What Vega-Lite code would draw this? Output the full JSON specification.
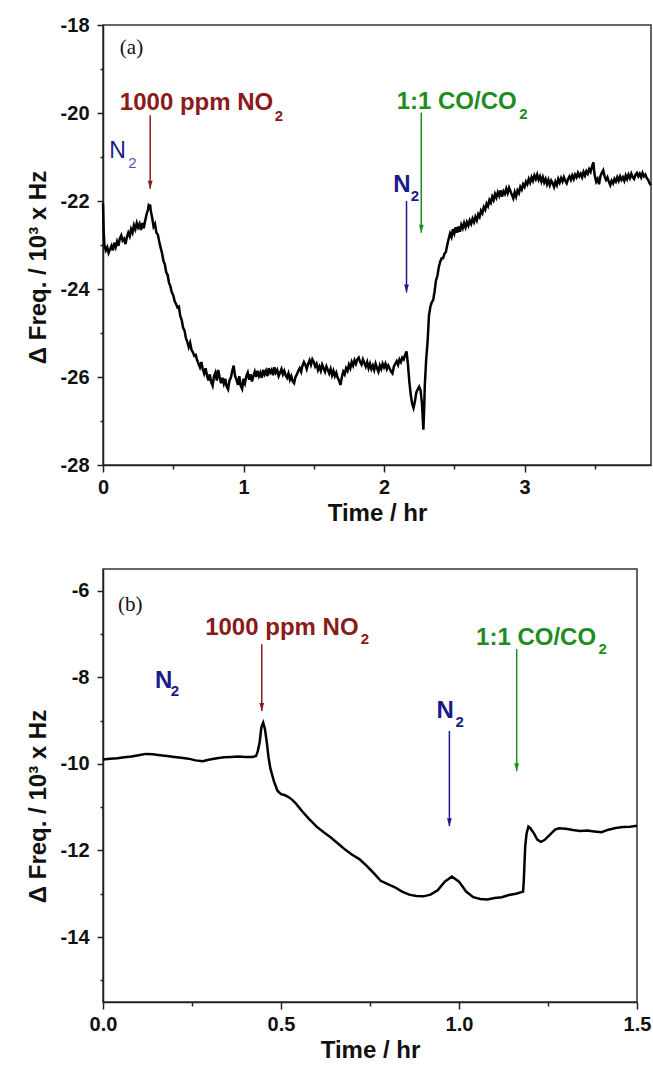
{
  "$schema": "https://vega.github.io/schema/vega-lite/v6.json",
  "padding": {"left": 25, "top": 14, "right": 0, "bottom": 0},
  "background": "white",
  "spacing": 104,
  "bounds": "flush",
  "config": {
    "view": {"stroke": "#333", "strokeWidth": 1.5},
    "axis": {
      "domainColor": "#222", "domainWidth": 1.5, "tickColor": "#222", "tickWidth": 1.5,
      "labelFont": "Liberation Sans", "labelFontWeight": "bold", "labelFontSize": 20, "labelColor": "#111",
      "titleFont": "Liberation Sans", "titleFontWeight": "bold", "titleFontSize": 24, "titleColor": "#111",
      "grid": false, "labelFlush": false, "labelOverlap": false
    }
  },
  "datasets": {
    "curveA": [
      {"t":0.000,"f":-22.05},{"t":0.005,"f":-22.7},{"t":0.01,"f":-23.0},{"t":0.02,"f":-23.12},{"t":0.03,"f":-23.05},{"t":0.04,"f":-23.18},{"t":0.05,"f":-23.1},{"t":0.06,"f":-23.02},{"t":0.07,"f":-23.12},{"t":0.08,"f":-22.95},{"t":0.09,"f":-23.05},{"t":0.10,"f":-22.92},{"t":0.11,"f":-23.02},{"t":0.12,"f":-22.85},{"t":0.13,"f":-22.78},{"t":0.14,"f":-22.9},{"t":0.15,"f":-22.86},{"t":0.16,"f":-22.98},{"t":0.17,"f":-22.82},{"t":0.18,"f":-22.72},{"t":0.19,"f":-22.8},{"t":0.20,"f":-22.64},{"t":0.21,"f":-22.72},{"t":0.22,"f":-22.55},{"t":0.23,"f":-22.64},{"t":0.24,"f":-22.5},{"t":0.25,"f":-22.6},{"t":0.26,"f":-22.52},{"t":0.27,"f":-22.66},{"t":0.28,"f":-22.5},{"t":0.29,"f":-22.62},{"t":0.30,"f":-22.45},{"t":0.31,"f":-22.3},{"t":0.32,"f":-22.2},{"t":0.325,"f":-22.1},{"t":0.33,"f":-22.12},{"t":0.335,"f":-22.08},{"t":0.34,"f":-22.22},{"t":0.35,"f":-22.38},{"t":0.36,"f":-22.58},{"t":0.37,"f":-22.52},{"t":0.38,"f":-22.72},{"t":0.39,"f":-22.76},{"t":0.40,"f":-22.92},{"t":0.41,"f":-23.06},{"t":0.42,"f":-23.18},{"t":0.43,"f":-23.36},{"t":0.44,"f":-23.44},{"t":0.45,"f":-23.62},{"t":0.46,"f":-23.68},{"t":0.47,"f":-23.86},{"t":0.48,"f":-23.94},{"t":0.49,"f":-24.08},{"t":0.50,"f":-24.14},{"t":0.51,"f":-24.28},{"t":0.52,"f":-24.34},{"t":0.53,"f":-24.42},{"t":0.54,"f":-24.4},{"t":0.55,"f":-24.62},{"t":0.56,"f":-24.7},{"t":0.57,"f":-24.88},{"t":0.58,"f":-24.94},{"t":0.59,"f":-25.12},{"t":0.60,"f":-25.2},{"t":0.61,"f":-25.32},{"t":0.62,"f":-25.22},{"t":0.63,"f":-25.38},{"t":0.64,"f":-25.44},{"t":0.65,"f":-25.52},{"t":0.66,"f":-25.5},{"t":0.67,"f":-25.62},{"t":0.68,"f":-25.7},{"t":0.69,"f":-25.78},{"t":0.70,"f":-25.66},{"t":0.71,"f":-25.82},{"t":0.72,"f":-25.92},{"t":0.73,"f":-25.8},{"t":0.74,"f":-25.96},{"t":0.75,"f":-26.08},{"t":0.76,"f":-25.94},{"t":0.77,"f":-26.12},{"t":0.78,"f":-26.2},{"t":0.79,"f":-25.98},{"t":0.80,"f":-25.9},{"t":0.81,"f":-26.08},{"t":0.82,"f":-25.84},{"t":0.83,"f":-26.0},{"t":0.84,"f":-26.14},{"t":0.85,"f":-26.02},{"t":0.86,"f":-26.15},{"t":0.87,"f":-26.04},{"t":0.88,"f":-26.22},{"t":0.89,"f":-26.28},{"t":0.90,"f":-26.08},{"t":0.91,"f":-26.02},{"t":0.92,"f":-25.86},{"t":0.93,"f":-25.74},{"t":0.94,"f":-25.98},{"t":0.95,"f":-26.06},{"t":0.96,"f":-26.18},{"t":0.97,"f":-25.98},{"t":0.98,"f":-26.2},{"t":0.99,"f":-26.27},{"t":1.00,"f":-26.04},{"t":1.01,"f":-26.14},{"t":1.02,"f":-25.98},{"t":1.03,"f":-25.9},{"t":1.04,"f":-26.06},{"t":1.05,"f":-25.94},{"t":1.06,"f":-26.1},{"t":1.07,"f":-25.98},{"t":1.08,"f":-25.88},{"t":1.09,"f":-26.0},{"t":1.10,"f":-25.86},{"t":1.11,"f":-25.98},{"t":1.12,"f":-25.9},{"t":1.13,"f":-26.02},{"t":1.14,"f":-25.84},{"t":1.15,"f":-25.94},{"t":1.16,"f":-25.86},{"t":1.17,"f":-25.98},{"t":1.18,"f":-25.8},{"t":1.19,"f":-25.9},{"t":1.20,"f":-25.84},{"t":1.21,"f":-25.96},{"t":1.22,"f":-25.78},{"t":1.23,"f":-25.9},{"t":1.24,"f":-25.84},{"t":1.25,"f":-25.98},{"t":1.26,"f":-25.9},{"t":1.27,"f":-25.82},{"t":1.28,"f":-25.94},{"t":1.29,"f":-25.86},{"t":1.30,"f":-25.96},{"t":1.31,"f":-26.02},{"t":1.32,"f":-25.92},{"t":1.33,"f":-26.06},{"t":1.34,"f":-25.98},{"t":1.35,"f":-26.1},{"t":1.36,"f":-26.14},{"t":1.37,"f":-26.0},{"t":1.38,"f":-25.94},{"t":1.39,"f":-25.86},{"t":1.40,"f":-25.8},{"t":1.41,"f":-25.88},{"t":1.42,"f":-25.74},{"t":1.43,"f":-25.66},{"t":1.44,"f":-25.72},{"t":1.45,"f":-25.82},{"t":1.46,"f":-25.7},{"t":1.47,"f":-25.62},{"t":1.48,"f":-25.72},{"t":1.49,"f":-25.6},{"t":1.50,"f":-25.66},{"t":1.51,"f":-25.76},{"t":1.52,"f":-25.7},{"t":1.53,"f":-25.84},{"t":1.54,"f":-25.76},{"t":1.55,"f":-25.86},{"t":1.56,"f":-25.72},{"t":1.57,"f":-25.8},{"t":1.58,"f":-25.88},{"t":1.59,"f":-25.76},{"t":1.60,"f":-25.84},{"t":1.61,"f":-25.92},{"t":1.62,"f":-25.82},{"t":1.63,"f":-25.96},{"t":1.64,"f":-25.86},{"t":1.65,"f":-25.98},{"t":1.66,"f":-25.9},{"t":1.67,"f":-26.02},{"t":1.68,"f":-26.08},{"t":1.69,"f":-26.18},{"t":1.70,"f":-26.0},{"t":1.71,"f":-25.88},{"t":1.72,"f":-25.94},{"t":1.73,"f":-25.8},{"t":1.74,"f":-25.86},{"t":1.75,"f":-25.72},{"t":1.76,"f":-25.8},{"t":1.77,"f":-25.66},{"t":1.78,"f":-25.74},{"t":1.79,"f":-25.62},{"t":1.80,"f":-25.7},{"t":1.81,"f":-25.6},{"t":1.82,"f":-25.56},{"t":1.83,"f":-25.66},{"t":1.84,"f":-25.72},{"t":1.85,"f":-25.6},{"t":1.86,"f":-25.68},{"t":1.87,"f":-25.76},{"t":1.88,"f":-25.66},{"t":1.89,"f":-25.8},{"t":1.90,"f":-25.7},{"t":1.91,"f":-25.82},{"t":1.92,"f":-25.74},{"t":1.93,"f":-25.84},{"t":1.94,"f":-25.7},{"t":1.95,"f":-25.8},{"t":1.96,"f":-25.88},{"t":1.97,"f":-25.74},{"t":1.98,"f":-25.82},{"t":1.99,"f":-25.7},{"t":2.00,"f":-25.78},{"t":2.01,"f":-25.7},{"t":2.02,"f":-25.82},{"t":2.03,"f":-25.74},{"t":2.04,"f":-25.8},{"t":2.05,"f":-25.88},{"t":2.06,"f":-25.92},{"t":2.07,"f":-25.76},{"t":2.08,"f":-25.7},{"t":2.09,"f":-25.64},{"t":2.10,"f":-25.72},{"t":2.11,"f":-25.6},{"t":2.12,"f":-25.66},{"t":2.13,"f":-25.56},{"t":2.14,"f":-25.6},{"t":2.15,"f":-25.5},{"t":2.16,"f":-25.42},{"t":2.17,"f":-25.7},{"t":2.18,"f":-26.1},{"t":2.19,"f":-26.4},{"t":2.20,"f":-26.6},{"t":2.21,"f":-26.7},{"t":2.22,"f":-26.55},{"t":2.23,"f":-26.35},{"t":2.24,"f":-26.28},{"t":2.25,"f":-26.22},{"t":2.26,"f":-26.3},{"t":2.27,"f":-26.6},{"t":2.28,"f":-27.2},{"t":2.285,"f":-26.8},{"t":2.29,"f":-26.2},{"t":2.30,"f":-25.6},{"t":2.31,"f":-25.2},{"t":2.32,"f":-24.6},{"t":2.33,"f":-24.4},{"t":2.34,"f":-24.3},{"t":2.35,"f":-24.25},{"t":2.36,"f":-24.05},{"t":2.37,"f":-23.8},{"t":2.38,"f":-23.7},{"t":2.39,"f":-23.5},{"t":2.40,"f":-23.38},{"t":2.41,"f":-23.3},{"t":2.42,"f":-23.3},{"t":2.43,"f":-23.2},{"t":2.44,"f":-23.16},{"t":2.45,"f":-23.0},{"t":2.46,"f":-22.86},{"t":2.47,"f":-22.74},{"t":2.48,"f":-22.82},{"t":2.49,"f":-22.64},{"t":2.50,"f":-22.74},{"t":2.51,"f":-22.6},{"t":2.52,"f":-22.72},{"t":2.53,"f":-22.58},{"t":2.54,"f":-22.7},{"t":2.55,"f":-22.54},{"t":2.56,"f":-22.62},{"t":2.57,"f":-22.5},{"t":2.58,"f":-22.6},{"t":2.59,"f":-22.48},{"t":2.60,"f":-22.56},{"t":2.61,"f":-22.44},{"t":2.62,"f":-22.52},{"t":2.63,"f":-22.4},{"t":2.64,"f":-22.48},{"t":2.65,"f":-22.36},{"t":2.66,"f":-22.44},{"t":2.67,"f":-22.3},{"t":2.68,"f":-22.36},{"t":2.69,"f":-22.22},{"t":2.70,"f":-22.28},{"t":2.71,"f":-22.14},{"t":2.72,"f":-22.2},{"t":2.73,"f":-22.06},{"t":2.74,"f":-22.12},{"t":2.75,"f":-21.98},{"t":2.76,"f":-22.04},{"t":2.77,"f":-21.9},{"t":2.78,"f":-21.98},{"t":2.79,"f":-21.84},{"t":2.80,"f":-21.92},{"t":2.81,"f":-21.8},{"t":2.82,"f":-21.88},{"t":2.83,"f":-21.76},{"t":2.84,"f":-21.9},{"t":2.85,"f":-21.78},{"t":2.86,"f":-21.84},{"t":2.87,"f":-21.72},{"t":2.88,"f":-21.82},{"t":2.89,"f":-21.7},{"t":2.90,"f":-21.78},{"t":2.91,"f":-21.86},{"t":2.92,"f":-21.94},{"t":2.93,"f":-21.8},{"t":2.94,"f":-21.9},{"t":2.95,"f":-21.76},{"t":2.96,"f":-21.82},{"t":2.97,"f":-21.68},{"t":2.98,"f":-21.74},{"t":2.99,"f":-21.62},{"t":3.00,"f":-21.68},{"t":3.01,"f":-21.56},{"t":3.02,"f":-21.62},{"t":3.03,"f":-21.5},{"t":3.04,"f":-21.58},{"t":3.05,"f":-21.46},{"t":3.06,"f":-21.54},{"t":3.07,"f":-21.42},{"t":3.08,"f":-21.5},{"t":3.09,"f":-21.4},{"t":3.10,"f":-21.52},{"t":3.11,"f":-21.44},{"t":3.12,"f":-21.56},{"t":3.13,"f":-21.46},{"t":3.14,"f":-21.58},{"t":3.15,"f":-21.5},{"t":3.16,"f":-21.62},{"t":3.17,"f":-21.52},{"t":3.18,"f":-21.64},{"t":3.19,"f":-21.54},{"t":3.20,"f":-21.6},{"t":3.21,"f":-21.68},{"t":3.22,"f":-21.56},{"t":3.23,"f":-21.64},{"t":3.24,"f":-21.5},{"t":3.25,"f":-21.58},{"t":3.26,"f":-21.48},{"t":3.27,"f":-21.56},{"t":3.28,"f":-21.46},{"t":3.29,"f":-21.54},{"t":3.30,"f":-21.6},{"t":3.31,"f":-21.5},{"t":3.32,"f":-21.44},{"t":3.33,"f":-21.52},{"t":3.34,"f":-21.42},{"t":3.35,"f":-21.5},{"t":3.36,"f":-21.4},{"t":3.37,"f":-21.46},{"t":3.38,"f":-21.36},{"t":3.39,"f":-21.44},{"t":3.40,"f":-21.38},{"t":3.41,"f":-21.46},{"t":3.42,"f":-21.34},{"t":3.43,"f":-21.42},{"t":3.44,"f":-21.32},{"t":3.45,"f":-21.38},{"t":3.46,"f":-21.28},{"t":3.47,"f":-21.34},{"t":3.48,"f":-21.22},{"t":3.49,"f":-21.12},{"t":3.495,"f":-21.3},{"t":3.50,"f":-21.42},{"t":3.51,"f":-21.56},{"t":3.52,"f":-21.5},{"t":3.53,"f":-21.62},{"t":3.54,"f":-21.44},{"t":3.55,"f":-21.36},{"t":3.56,"f":-21.3},{"t":3.57,"f":-21.44},{"t":3.58,"f":-21.52},{"t":3.59,"f":-21.46},{"t":3.60,"f":-21.56},{"t":3.61,"f":-21.64},{"t":3.62,"f":-21.54},{"t":3.63,"f":-21.6},{"t":3.64,"f":-21.5},{"t":3.65,"f":-21.56},{"t":3.66,"f":-21.46},{"t":3.67,"f":-21.54},{"t":3.68,"f":-21.44},{"t":3.69,"f":-21.52},{"t":3.70,"f":-21.46},{"t":3.71,"f":-21.54},{"t":3.72,"f":-21.42},{"t":3.73,"f":-21.5},{"t":3.74,"f":-21.4},{"t":3.75,"f":-21.48},{"t":3.76,"f":-21.38},{"t":3.77,"f":-21.46},{"t":3.78,"f":-21.5},{"t":3.79,"f":-21.4},{"t":3.80,"f":-21.36},{"t":3.81,"f":-21.44},{"t":3.82,"f":-21.38},{"t":3.83,"f":-21.46},{"t":3.84,"f":-21.36},{"t":3.85,"f":-21.44},{"t":3.86,"f":-21.4},{"t":3.87,"f":-21.48},{"t":3.88,"f":-21.52},{"t":3.89,"f":-21.6},{"t":3.90,"f":-21.64}
    ],
    "curveB": [
      {"t":0.00,"f":-9.9},{"t":0.02,"f":-9.88},{"t":0.04,"f":-9.87},{"t":0.06,"f":-9.85},{"t":0.08,"f":-9.83},{"t":0.10,"f":-9.8},{"t":0.12,"f":-9.77},{"t":0.14,"f":-9.78},{"t":0.16,"f":-9.8},{"t":0.18,"f":-9.82},{"t":0.20,"f":-9.84},{"t":0.22,"f":-9.86},{"t":0.24,"f":-9.88},{"t":0.26,"f":-9.92},{"t":0.28,"f":-9.94},{"t":0.30,"f":-9.9},{"t":0.32,"f":-9.87},{"t":0.34,"f":-9.85},{"t":0.36,"f":-9.84},{"t":0.38,"f":-9.83},{"t":0.40,"f":-9.84},{"t":0.42,"f":-9.84},{"t":0.43,"f":-9.82},{"t":0.435,"f":-9.7},{"t":0.44,"f":-9.5},{"t":0.445,"f":-9.15},{"t":0.45,"f":-9.05},{"t":0.455,"f":-9.2},{"t":0.46,"f":-9.5},{"t":0.465,"f":-9.85},{"t":0.47,"f":-10.1},{"t":0.48,"f":-10.4},{"t":0.49,"f":-10.62},{"t":0.50,"f":-10.7},{"t":0.51,"f":-10.72},{"t":0.52,"f":-10.76},{"t":0.53,"f":-10.82},{"t":0.54,"f":-10.9},{"t":0.55,"f":-11.0},{"t":0.56,"f":-11.1},{"t":0.58,"f":-11.28},{"t":0.60,"f":-11.45},{"t":0.62,"f":-11.58},{"t":0.64,"f":-11.7},{"t":0.66,"f":-11.84},{"t":0.68,"f":-11.98},{"t":0.70,"f":-12.1},{"t":0.72,"f":-12.2},{"t":0.74,"f":-12.35},{"t":0.76,"f":-12.52},{"t":0.78,"f":-12.7},{"t":0.80,"f":-12.78},{"t":0.82,"f":-12.85},{"t":0.84,"f":-12.95},{"t":0.86,"f":-13.02},{"t":0.88,"f":-13.05},{"t":0.90,"f":-13.06},{"t":0.92,"f":-13.02},{"t":0.94,"f":-12.92},{"t":0.96,"f":-12.72},{"t":0.98,"f":-12.6},{"t":1.00,"f":-12.72},{"t":1.02,"f":-12.95},{"t":1.04,"f":-13.08},{"t":1.06,"f":-13.12},{"t":1.08,"f":-13.13},{"t":1.10,"f":-13.1},{"t":1.12,"f":-13.08},{"t":1.14,"f":-13.03},{"t":1.16,"f":-13.0},{"t":1.18,"f":-12.95},{"t":1.182,"f":-12.7},{"t":1.186,"f":-11.9},{"t":1.19,"f":-11.6},{"t":1.195,"f":-11.45},{"t":1.20,"f":-11.48},{"t":1.21,"f":-11.6},{"t":1.22,"f":-11.75},{"t":1.23,"f":-11.8},{"t":1.24,"f":-11.76},{"t":1.25,"f":-11.68},{"t":1.26,"f":-11.6},{"t":1.27,"f":-11.52},{"t":1.28,"f":-11.49},{"t":1.30,"f":-11.5},{"t":1.32,"f":-11.53},{"t":1.34,"f":-11.55},{"t":1.36,"f":-11.54},{"t":1.38,"f":-11.56},{"t":1.40,"f":-11.58},{"t":1.42,"f":-11.52},{"t":1.44,"f":-11.48},{"t":1.46,"f":-11.46},{"t":1.48,"f":-11.45},{"t":1.50,"f":-11.43}
    ],
    "arrowsA": [
      {"t":0.336,"top":-20.05,"tip":-21.72,"gas":"NO2"},
      {"t":2.265,"top":-19.99,"tip":-22.72,"gas":"CO"},
      {"t":2.16,"top":-22.0,"tip":-24.08,"gas":"N2"}
    ],
    "arrowsB": [
      {"t":0.446,"top":-7.24,"tip":-8.78,"gas":"NO2"},
      {"t":1.162,"top":-7.35,"tip":-10.17,"gas":"CO"},
      {"t":0.973,"top":-9.24,"tip":-11.44,"gas":"N2"}
    ],
    "labelsA": [
      {"t":0.12,"v":-19.94,"text":"1000 ppm NO","gas":"NO2"},
      {"t":2.09,"v":-19.92,"text":"1:1 CO/CO","gas":"CO"},
      {"t":2.065,"v":-21.8,"text":"N","gas":"N2"}
    ],
    "subsA": [
      {"t":1.222,"v":-20.18,"gas":"NO2"},
      {"t":2.962,"v":-20.14,"gas":"CO"},
      {"t":2.19,"v":-22.0,"gas":"N2"}
    ],
    "labelsB": [
      {"t":0.287,"v":-7.02,"text":"1000 ppm NO","gas":"NO2"},
      {"t":1.048,"v":-7.26,"text":"1:1 CO/CO","gas":"CO"},
      {"t":0.146,"v":-8.24,"text":"N","gas":"N2"},
      {"t":0.937,"v":-8.93,"text":"N","gas":"N2"}
    ],
    "subsB": [
      {"t":0.724,"v":-7.24,"gas":"NO2"},
      {"t":1.392,"v":-7.47,"gas":"CO"},
      {"t":0.19,"v":-8.43,"gas":"N2"},
      {"t":0.99,"v":-9.15,"gas":"N2"}
    ]
  },
  "vconcat": [
    {
      "width": 548,
      "height": 440,
      "layer": [
        {
          "data": {"name": "curveA"},
          "mark": {"type": "line", "color": "#000", "strokeWidth": 2.5},
          "encoding": {
            "x": {"field": "t", "type": "quantitative", "title": "Time / hr",
                  "scale": {"domain": [0, 3.9], "nice": false, "zero": false},
                  "axis": {"values": [0, 0.5, 1, 1.5, 2, 2.5, 3, 3.5],
                           "labelExpr": "datum.value % 1 === 0 ? '' + datum.value : ''",
                           "tickSize": {"condition": {"test": "datum.value % 1 === 0", "value": 7}, "value": 4},
                           "labelPadding": 5, "titlePadding": 4}},
            "y": {"field": "f", "type": "quantitative", "title": "Δ Freq. / 10³ x Hz",
                  "scale": {"domain": [-28, -18], "nice": false, "zero": false},
                  "axis": {"values": [-28, -27, -26, -25, -24, -23, -22, -21, -20, -19, -18],
                           "labelExpr": "datum.value % 2 === 0 ? '' + datum.value : ''",
                           "tickSize": {"condition": {"test": "datum.value % 2 === 0", "value": 6}, "value": 3},
                           "labelPadding": 8, "titlePadding": 10, "titleY": 242}}
          }
        },
        {
          "data": {"name": "arrowsA"},
          "mark": {"type": "rule", "strokeWidth": 1.5},
          "encoding": {
            "x": {"field": "t", "type": "quantitative"},
            "y": {"field": "top", "type": "quantitative"},
            "y2": {"field": "tip"},
            "color": {"field": "gas", "type": "nominal", "legend": null,
                      "scale": {"domain": ["NO2", "CO", "N2", "N2light"], "range": ["#8B1A1A", "#1E8C1E", "#1A1A8C", "#5050C8"]}}
          }
        },
        {
          "data": {"name": "arrowsA"},
          "mark": {"type": "point", "shape": "M-0.6,-1L0.6,-1L0,1Z", "filled": true, "size": 64, "opacity": 1, "yOffset": -4},
          "encoding": {
            "x": {"field": "t", "type": "quantitative"},
            "y": {"field": "tip", "type": "quantitative"},
            "color": {"field": "gas", "type": "nominal", "legend": null}
          }
        },
        {
          "data": {"name": "labelsA"},
          "mark": {"type": "text", "align": "left", "baseline": "alphabetic", "font": "Liberation Sans", "fontWeight": "bold", "fontSize": 24},
          "encoding": {
            "x": {"field": "t", "type": "quantitative"},
            "y": {"field": "v", "type": "quantitative"},
            "text": {"field": "text"},
            "color": {"field": "gas", "type": "nominal", "legend": null}
          }
        },
        {
          "data": {"name": "subsA"},
          "mark": {"type": "text", "align": "left", "baseline": "alphabetic", "font": "Liberation Sans", "fontWeight": "bold", "fontSize": 15, "text": "2"},
          "encoding": {
            "x": {"field": "t", "type": "quantitative"},
            "y": {"field": "v", "type": "quantitative"},
            "color": {"field": "gas", "type": "nominal", "legend": null}
          }
        },
        {
          "data": {"values": [{"t": 0.045, "v": -21.02, "text": "N", "gas": "N2"}]},
          "mark": {"type": "text", "align": "left", "baseline": "alphabetic", "font": "Liberation Sans", "fontSize": 23},
          "encoding": {
            "x": {"field": "t", "type": "quantitative"},
            "y": {"field": "v", "type": "quantitative"},
            "text": {"field": "text"},
            "color": {"field": "gas", "type": "nominal", "legend": null}
          }
        },
        {
          "data": {"values": [{"t": 0.18, "v": -21.24, "gas": "N2light"}]},
          "mark": {"type": "text", "align": "left", "baseline": "alphabetic", "font": "Liberation Sans", "fontSize": 15, "text": "2"},
          "encoding": {
            "x": {"field": "t", "type": "quantitative"},
            "y": {"field": "v", "type": "quantitative"},
            "color": {"field": "gas", "type": "nominal", "legend": null}
          }
        },
        {
          "data": {"values": [{"t": 0.12, "v": -18.66, "text": "(a)"}]},
          "mark": {"type": "text", "align": "left", "baseline": "alphabetic", "font": "Liberation Serif", "fontSize": 21, "color": "#111"},
          "encoding": {
            "x": {"field": "t", "type": "quantitative"},
            "y": {"field": "v", "type": "quantitative"},
            "text": {"field": "text"}
          }
        }
      ]
    },
    {
      "width": 534,
      "height": 433,
      "layer": [
        {
          "data": {"name": "curveB"},
          "mark": {"type": "line", "color": "#000", "strokeWidth": 2.5},
          "encoding": {
            "x": {"field": "t", "type": "quantitative", "title": "Time / hr",
                  "scale": {"domain": [0, 1.5], "nice": false, "zero": false},
                  "axis": {"values": [0, 0.25, 0.5, 0.75, 1, 1.25, 1.5],
                           "labelExpr": "(datum.value * 2) % 1 === 0 ? format(datum.value, '.1f') : ''",
                           "tickSize": {"condition": {"test": "(datum.value * 2) % 1 === 0", "value": 7}, "value": 4},
                           "labelPadding": 5, "titlePadding": 4}},
            "y": {"field": "f", "type": "quantitative", "title": "Δ Freq. / 10³ x Hz",
                  "scale": {"domain": [-15.5, -5.5], "nice": false, "zero": false},
                  "axis": {"values": [-15, -14, -13, -12, -11, -10, -9, -8, -7, -6],
                           "labelExpr": "datum.value % 2 === 0 ? '' + datum.value : ''",
                           "tickSize": {"condition": {"test": "datum.value % 2 === 0", "value": 6}, "value": 3},
                           "labelPadding": 8, "titlePadding": 10, "titleY": 237}}
          }
        },
        {
          "data": {"name": "arrowsB"},
          "mark": {"type": "rule", "strokeWidth": 1.5},
          "encoding": {
            "x": {"field": "t", "type": "quantitative"},
            "y": {"field": "top", "type": "quantitative"},
            "y2": {"field": "tip"},
            "color": {"field": "gas", "type": "nominal", "legend": null,
                      "scale": {"domain": ["NO2", "CO", "N2"], "range": ["#8B1A1A", "#1E8C1E", "#1A1A8C"]}}
          }
        },
        {
          "data": {"name": "arrowsB"},
          "mark": {"type": "point", "shape": "M-0.6,-1L0.6,-1L0,1Z", "filled": true, "size": 64, "opacity": 1, "yOffset": -4},
          "encoding": {
            "x": {"field": "t", "type": "quantitative"},
            "y": {"field": "tip", "type": "quantitative"},
            "color": {"field": "gas", "type": "nominal", "legend": null}
          }
        },
        {
          "data": {"name": "labelsB"},
          "mark": {"type": "text", "align": "left", "baseline": "alphabetic", "font": "Liberation Sans", "fontWeight": "bold", "fontSize": 24},
          "encoding": {
            "x": {"field": "t", "type": "quantitative"},
            "y": {"field": "v", "type": "quantitative"},
            "text": {"field": "text"},
            "color": {"field": "gas", "type": "nominal", "legend": null}
          }
        },
        {
          "data": {"name": "subsB"},
          "mark": {"type": "text", "align": "left", "baseline": "alphabetic", "font": "Liberation Sans", "fontWeight": "bold", "fontSize": 15, "text": "2"},
          "encoding": {
            "x": {"field": "t", "type": "quantitative"},
            "y": {"field": "v", "type": "quantitative"},
            "color": {"field": "gas", "type": "nominal", "legend": null}
          }
        },
        {
          "data": {"values": [{"t": 0.042, "v": -6.47, "text": "(b)"}]},
          "mark": {"type": "text", "align": "left", "baseline": "alphabetic", "font": "Liberation Serif", "fontSize": 21, "color": "#111"},
          "encoding": {
            "x": {"field": "t", "type": "quantitative"},
            "y": {"field": "v", "type": "quantitative"},
            "text": {"field": "text"}
          }
        }
      ]
    }
  ]
}
